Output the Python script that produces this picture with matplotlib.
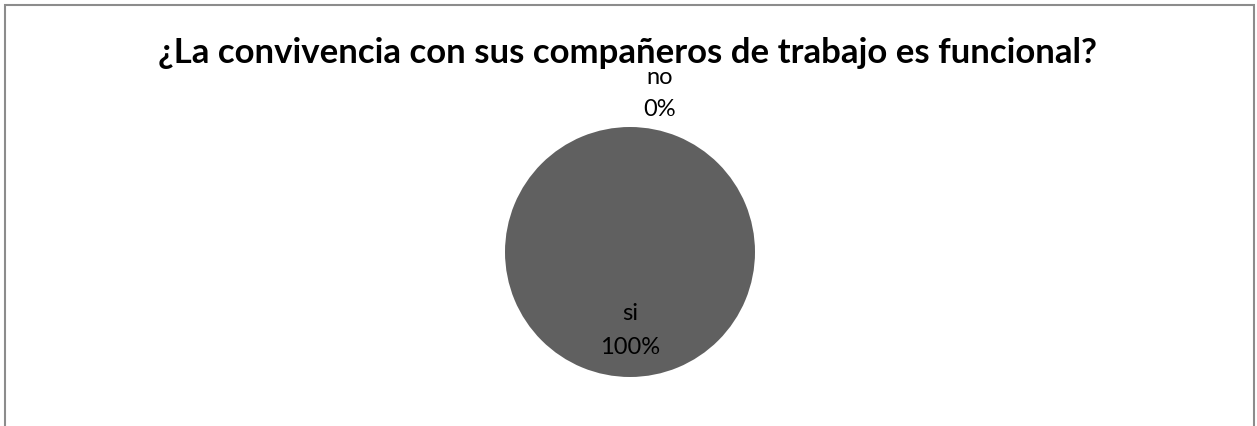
import matplotlib
matplotlib.use("Agg")
import matplotlib.pyplot as plt
from matplotlib.patches import Rectangle

# survey answers
labels = ["si", "no"]
values = [100, 0]

title = "¿La convivencia con sus compañeros de trabajo es funcional?"

plt.rcParams['font.family'] = ['Lato', 'DejaVu Sans']

fig = plt.figure(figsize=(12.57, 4.26), dpi=100)

# chart frame
fig.patches.append(Rectangle((5 / 1257, -0.1), 1249 / 1257, 1.1 - 5 / 426,
                             transform=fig.transFigure, fill=False,
                             edgecolor="#8c8c8c", linewidth=1.5))

ax = fig.add_axes([505 / 1257, 49 / 426, 250 / 1257, 250 / 426])
wedges, _ = ax.pie(values, colors=["#606060", "#606060"], startangle=90,
                   counterclock=False, radius=1)
ax.set_xlim(-1, 1)
ax.set_ylim(-1, 1)
ax.set_aspect("equal")
ax.axis("off")

total = sum(values)
pcts = [f"{v / total * 100:.0f}%" for v in values]

# data labels: name above percentage
label_pos = [(0.0, -0.49, -0.76), (0.24, 1.40, 1.136)]
for lab, pct, (x, y1, y2) in zip(labels, pcts, label_pos):
    ax.text(x, y1, lab, ha="center", va="center", fontsize=17, clip_on=False)
    ax.text(x, y2, pct, ha="center", va="center", fontsize=17, clip_on=False)

fig.text(628 / 1257, 1 - 63 / 426, title, ha="center", va="baseline",
         fontsize=25, fontweight="bold")

fig.savefig("out.png", dpi=100)
